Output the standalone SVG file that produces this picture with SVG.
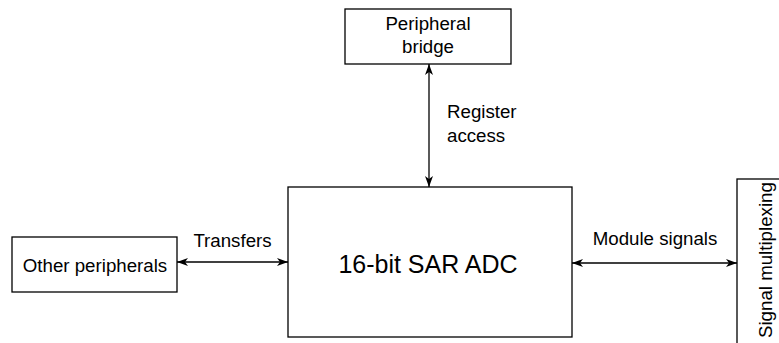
<svg xmlns="http://www.w3.org/2000/svg" width="779" height="343" viewBox="0 0 779 343">
<style>
.box{fill:#fff;stroke:#000;stroke-width:1.3}
.t{font-family:"Liberation Sans",Arial,sans-serif;font-size:18.7px;fill:#000}
.big{font-family:"Liberation Sans",Arial,sans-serif;font-size:25px;fill:#000}
.c{stroke:#000;stroke-width:1.3;fill:none}
</style>
<defs>
<marker id="ah" viewBox="0 0 11 8" refX="11" refY="4" markerWidth="11" markerHeight="8" markerUnits="userSpaceOnUse" orient="auto-start-reverse">
<path d="M0,0 L11,4 L0,8 L3,4 z" fill="#000"/>
</marker>
</defs>
<rect width="779" height="343" fill="#fff"/>
<g id="connectors">
<line class="c" x1="429" y1="64" x2="429" y2="187" marker-start="url(#ah)" marker-end="url(#ah)"/>
<line class="c" x1="177" y1="262" x2="288" y2="262" marker-start="url(#ah)" marker-end="url(#ah)"/>
<line class="c" x1="572" y1="263" x2="737" y2="263" marker-start="url(#ah)" marker-end="url(#ah)"/>
<text class="t" x="447" y="118">Register</text>
<text class="t" x="447" y="142">access</text>
<text class="t" x="232.5" y="247" text-anchor="middle">Transfers</text>
<text class="t" x="655" y="245" text-anchor="middle">Module signals</text>
</g>
<g id="peripheral-bridge">
<rect class="box" x="345" y="9" width="166" height="55"/>
<text class="t" x="428" y="30" text-anchor="middle">Peripheral</text>
<text class="t" x="428" y="53" text-anchor="middle">bridge</text>
</g>
<g id="adc">
<rect class="box" x="288" y="187" width="284" height="150"/>
<text class="big" x="428" y="273" text-anchor="middle">16-bit SAR ADC</text>
</g>
<g id="other-peripherals">
<rect class="box" x="12" y="237" width="165" height="55"/>
<text class="t" x="95" y="272" text-anchor="middle">Other peripherals</text>
</g>
<g id="signal-multiplexing">
<rect class="box" x="737" y="179" width="60" height="200"/>
<text class="t" transform="translate(772,338) rotate(-90)">Signal multiplexing</text>
</g>
</svg>
